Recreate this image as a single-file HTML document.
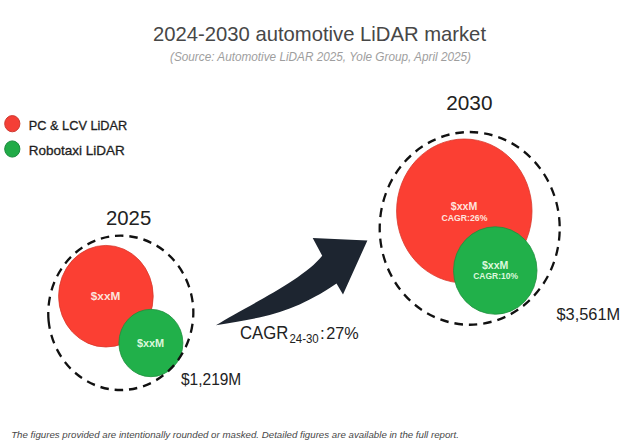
<!DOCTYPE html>
<html>
<head>
<meta charset="utf-8">
<style>
html,body{margin:0;padding:0;background:#ffffff;}
body{width:640px;height:448px;overflow:hidden;position:relative;}
svg{position:absolute;left:0;top:0;display:block;}
text{font-family:"Liberation Sans", sans-serif;}
</style>
</head>
<body>
<svg width="640" height="448" viewBox="0 0 640 448">
  <rect x="0" y="0" width="640" height="448" fill="#ffffff"/>

  <!-- Title -->
  <text x="153" y="41.1" font-size="21" fill="#474747" textLength="333" lengthAdjust="spacingAndGlyphs">2024-2030 automotive LiDAR market</text>
  <text x="170" y="61" font-size="12" font-style="italic" fill="#9e9e9e" textLength="301" lengthAdjust="spacingAndGlyphs">(Source: Automotive LiDAR 2025, Yole Group, April 2025)</text>

  <!-- Legend -->
  <ellipse cx="12.3" cy="123.7" rx="7.6" ry="8.1" fill="#f43f36" stroke="#cf3a32" stroke-width="1"/>
  <ellipse cx="12.3" cy="149" rx="7.6" ry="8.1" fill="#21ab47" stroke="#1a8a3d" stroke-width="1"/>
  <text x="28.8" y="129.8" font-size="13" fill="#1e1e1e" stroke="#1e1e1e" stroke-width="0.3" textLength="98.5" lengthAdjust="spacingAndGlyphs">PC &amp; LCV LiDAR</text>
  <text x="28.8" y="154.7" font-size="13" fill="#1e1e1e" stroke="#1e1e1e" stroke-width="0.3" textLength="96" lengthAdjust="spacingAndGlyphs">Robotaxi LiDAR</text>

  <!-- 2025 group -->
  <text x="106" y="224.5" font-size="20.5" fill="#222222" textLength="45.25" lengthAdjust="spacingAndGlyphs">2025</text>
  <ellipse cx="105.9" cy="296.2" rx="47.3" ry="50.8" fill="#fb3f33" stroke="#d8392c" stroke-width="0.8"/>
  <ellipse cx="150.9" cy="343" rx="32" ry="33.7" fill="#21b04a" stroke="#1d8f3c" stroke-width="0.8"/>
  <g transform="translate(120.8 312.85) scale(1 1.072)"><path d="M-72.20,7.59 A72.6,72.6 0 0 1 72.20,-7.59 A72.6,72.6 0 0 1 -72.20,7.59" pathLength="456.9" fill="none" stroke="#111111" stroke-width="2.3" stroke-dasharray="8.5 6"/></g>
  <text x="90.8" y="299.6" font-size="10.5" font-weight="bold" fill="#fbe3dc" textLength="29.5" lengthAdjust="spacingAndGlyphs">$xxM</text>
  <text x="136.9" y="347.4" font-size="10" font-weight="bold" fill="#dcf7dc" textLength="27.3" lengthAdjust="spacingAndGlyphs">$xxM</text>
  <text x="181" y="385" font-size="16.5" fill="#222222" textLength="60.25" lengthAdjust="spacingAndGlyphs">$1,219M</text>

  <!-- Arrow -->
  <path d="M215.9,325.3 C243.3,307.8 302.4,280.8 322.2,255.7 L312.7,237.9 L367.4,240.4 L343,294.4 L336.5,283.5 C294,312.3 266,317.3 215.9,325.3 Z" fill="#1d2530"/>
  <text x="240" y="338.8" font-size="17.5" fill="#222222" textLength="48.3" lengthAdjust="spacingAndGlyphs">CAGR</text>
  <text x="289.4" y="342.5" font-size="12" fill="#222222" textLength="29.35" lengthAdjust="spacingAndGlyphs">24-30</text>
  <text x="320" y="338.75" font-size="17" fill="#222222">:</text>
  <text x="326.25" y="338.75" font-size="17" fill="#222222" textLength="32.5" lengthAdjust="spacingAndGlyphs">27%</text>

  <!-- 2030 group -->
  <text x="446.25" y="110.3" font-size="20.5" fill="#222222" textLength="46.25" lengthAdjust="spacingAndGlyphs">2030</text>
  <ellipse cx="464.3" cy="211" rx="67.7" ry="72" fill="#fb3f33" stroke="#d8392c" stroke-width="0.8"/>
  <ellipse cx="495.25" cy="270.5" rx="41.75" ry="43.75" fill="#21b04a" stroke="#1d8f3c" stroke-width="0.8"/>
  <g transform="translate(469.7 228.4) scale(1 1.07)"><circle cx="0" cy="0" r="90" fill="none" stroke="#111111" stroke-width="2.3" stroke-dasharray="8.5 6" stroke-dashoffset="-3"/></g>
  <text x="450.8" y="209.8" font-size="10" font-weight="bold" fill="#ffe4de" textLength="26.5" lengthAdjust="spacingAndGlyphs">$xxM</text>
  <text x="441.5" y="221.3" font-size="9.2" font-weight="bold" fill="#ffe4de" textLength="45.9" lengthAdjust="spacingAndGlyphs">CAGR:26%</text>
  <text x="481.9" y="268.5" font-size="10" font-weight="bold" fill="#ddf8dd" textLength="26.4" lengthAdjust="spacingAndGlyphs">$xxM</text>
  <text x="473.2" y="279.2" font-size="9.2" font-weight="bold" fill="#ddf8dd" textLength="44.8" lengthAdjust="spacingAndGlyphs">CAGR:10%</text>
  <text x="556.5" y="319.6" font-size="16" fill="#222222" textLength="63.7" lengthAdjust="spacingAndGlyphs">$3,561M</text>

  <!-- Footer -->
  <text x="11.2" y="438.1" font-size="9" font-style="italic" fill="#474747" textLength="447.8" lengthAdjust="spacingAndGlyphs">The figures provided are intentionally rounded or masked. Detailed figures are available in the full report.</text>
</svg>
</body>
</html>
